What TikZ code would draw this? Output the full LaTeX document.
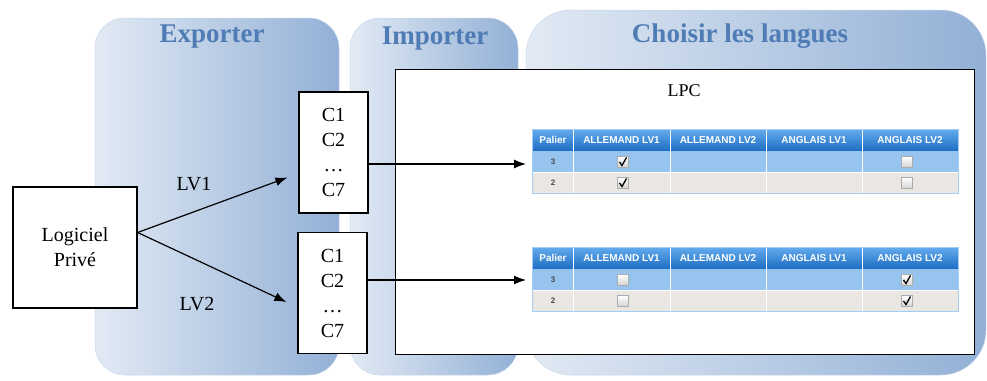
\documentclass[tikz,border=0pt]{standalone}
\usepackage{fontspec}
\setmainfont{Liberation Serif}
\newfontfamily\serfont{Liberation Serif}
\newfontfamily\tabfont{Liberation Sans}
\usetikzlibrary{arrows.meta,positioning,calc}

\definecolor{panellight}{RGB}{226,234,244}
\definecolor{paneldark}{RGB}{146,176,214}
\definecolor{titleblue}{RGB}{79,124,180}
\definecolor{headtop}{RGB}{100,172,238}
\definecolor{headbot}{RGB}{28,108,194}
\definecolor{rowblue}{RGB}{150,196,238}
\definecolor{rowgrey}{RGB}{234,230,225}

\tikzset{
  panel/.style={left color=panellight, middle color=panellight!70!paneldark, right color=paneldark, draw=paneldark!50, line width=0.5pt},
  ptitle/.style={text=titleblue, font=\serfont\fontsize{27}{30}\selectfont\bfseries},
  box/.style={draw, fill=white, line width=1.2pt, align=center, inner sep=0pt, font=\serfont\fontsize{20}{25}\selectfont},
  arr/.style={line width=1.2pt, -{Latex[length=12pt,width=9pt]}},
  lbl/.style={font=\serfont\fontsize{20}{24}\selectfont},
  thead/.style={text=white, font=\tabfont\fontsize{10}{11}\selectfont\bfseries},
  tnum/.style={text=gray!60!black, font=\tabfont\fontsize{8}{9}\selectfont\bfseries},
  chkbox/.style={draw=gray!65, line width=0.5pt, top color=white, bottom color=gray!35, minimum size=11pt, inner sep=0pt}
}

\begin{document}
\begin{tikzpicture}[x=1pt, y=-1pt]
\useasboundingbox (0,0) rectangle (987,380);

% Three background panels
\draw[panel, rounded corners=30] (95,18) rectangle (339,375);
\draw[panel, rounded corners=30] (350,18) rectangle (518,375);
\draw[panel, rounded corners=45] (526,10) rectangle (986,375);

\node[ptitle] (exptitle) at (212,37) {Exporter};
\node[ptitle] (imptitle) at (435,39) {Importer};
\node[ptitle] (langtitle) at (740,36) {Choisir les langues};

% LPC frame
\node[draw, fill=white, line width=1.2pt, minimum width=579, minimum height=285, inner sep=0pt, anchor=north west] (lpcbox) at (395,69) {};
\node[lbl, font=\serfont\fontsize{18}{20}\selectfont] (lpc) at (684,91) {LPC};

% Boxes
\node[box, minimum width=124, minimum height=121] (logiciel) at (75,247.5) {Logiciel\\Privé};
\node[box, minimum width=69, minimum height=121] (cA) at (333.5,152.5) {C1\\C2\\\ldots\\C7};
\node[box, minimum width=69, minimum height=121] (cB) at (332.5,293) {C1\\C2\\\ldots\\C7};

% Arrows from the software
\coordinate (fork) at ([yshift=15pt]logiciel.east);
\draw[arr] (fork) -- ([xshift=-11pt,yshift=-25pt]cA.west);
\draw[arr] (fork) -- ([xshift=-11pt,yshift=-9pt]cB.west);
\node[lbl] (lvone) at (194,184) {LV1};
\node[lbl] (lvtwo) at (197,304) {LV2};

% Arrows into the tables
\coordinate (tA) at (526,164);
\coordinate (tB) at (526,280);
\draw[arr] (cA.east |- tA) -- (tA);
\draw[arr] (cB.east |- tB) -- (tB);

% Checkbox: x, y, checked
\def\checkbox#1#2#3{
  \node[chkbox] (bx) at (#1,#2) {};
  \ifnum#3=1
    \draw[line width=1.3pt] ([xshift=-3.5pt]bx.center) -- ++(2.5,3.5) -- ++(4.5,-8);
  \fi
}

% Language tables
\foreach \ty/\cka/\ckb in {129/1/0, 247/0/1} {
    \shade[top color=headtop, bottom color=headbot] (532,\ty) rectangle (958,\ty+22);
    \fill[rowblue] (532,\ty+22) rectangle (958,\ty+43);
    \fill[rowgrey] (532,\ty+43) rectangle (958,\ty+64);
    \draw[white, line width=0.6pt] (532,\ty+43) -- (958,\ty+43);
    \foreach \cx in {573, 670, 766, 862} {
        \draw[white, line width=0.8pt] (\cx,\ty) -- (\cx,\ty+64);
    }
    \draw[headtop!60, line width=0.6pt] (532,\ty) rectangle (958,\ty+64);

    \node[thead] at (553,\ty+11) {Palier};
    \node[thead] at (621.5,\ty+11) {ALLEMAND LV1};
    \node[thead] at (718,\ty+11) {ALLEMAND LV2};
    \node[thead] at (814,\ty+11) {ANGLAIS LV1};
    \node[thead] at (910,\ty+11) {ANGLAIS LV2};

    \node[tnum] at (553,\ty+33) {3};
    \node[tnum] at (553,\ty+54) {2};

    \checkbox{623}{\ty+33}{\cka}
    \checkbox{623}{\ty+54}{\cka}
    \checkbox{907}{\ty+33}{\ckb}
    \checkbox{907}{\ty+54}{\ckb}
}

\end{tikzpicture}
\end{document}
